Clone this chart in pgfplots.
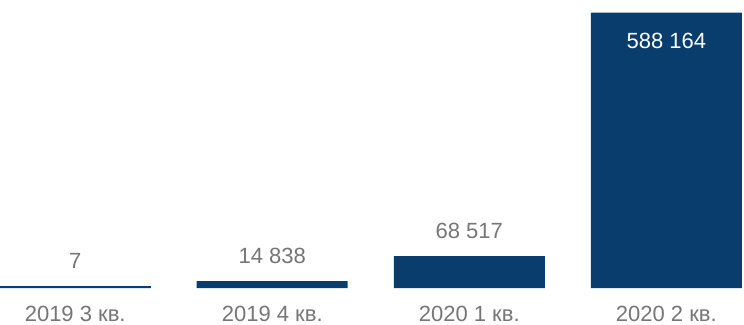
\documentclass[border=0pt]{standalone}
\usepackage{pgfplots}
\pgfplotsset{compat=1.18}
\usepackage{fontspec}
\setmainfont{Liberation Sans}
\definecolor{barblue}{RGB}{9,61,110}
\definecolor{labgray}{RGB}{118,118,118}
\begin{document}
\begin{tikzpicture}
\path[use as bounding box] (0bp,-36.8bp) rectangle (744bp,288.2bp);
\begin{axis}[
  at={(0,0)}, anchor=south west,
  scale only axis,
  width=744bp, height=275.5bp,
  xmin=-0.3817, xmax=3.3944,
  ymin=0, ymax=588164,
  clip=false,
  axis line style={draw=none},
  major tick length=0pt,
  ytick=\empty,
  xtick={0,1,2,3},
  xticklabels={2019 3 кв., 2019 4 кв., 2020 1 кв., 2020 2 кв.},
  xticklabel style={anchor=center, yshift=-25.5bp, text=labgray, font=\fontsize{22bp}{26bp}\selectfont},
]
% bars
\addplot[ybar, bar width=151bp, bar shift=0pt, fill=barblue, draw=none]
  coordinates {(0,7) (1,14838) (2,68517) (3,588164)};
% minimum visible height for the tiny first bar
\addplot[ybar, bar width=148.4bp, bar shift=0pt, fill=barblue, draw=barblue, line width=2.6bp, yshift=1.3bp]
  coordinates {(0,7)};
% value labels above bars
\addplot[draw=none, mark=none, nodes near coords, point meta=explicit symbolic,
  every node near coord/.append style={anchor=center, yshift=25bp, text=labgray, font=\fontsize{22bp}{26bp}\selectfont}]
  coordinates {(1,14838) [14 838] (2,68517) [68 517]};
\addplot[draw=none, mark=none, nodes near coords, point meta=explicit symbolic,
  every node near coord/.append style={anchor=center, yshift=27.6bp, text=labgray, font=\fontsize{22bp}{26bp}\selectfont}]
  coordinates {(0,7) [7]};
% value label inside the tall bar
\addplot[draw=none, mark=none, nodes near coords, point meta=explicit symbolic,
  every node near coord/.append style={anchor=center, yshift=-28.6bp, text=white, font=\fontsize{22bp}{26bp}\selectfont}]
  coordinates {(3,588164) [588 164]};
\end{axis}
\end{tikzpicture}
\end{document}
